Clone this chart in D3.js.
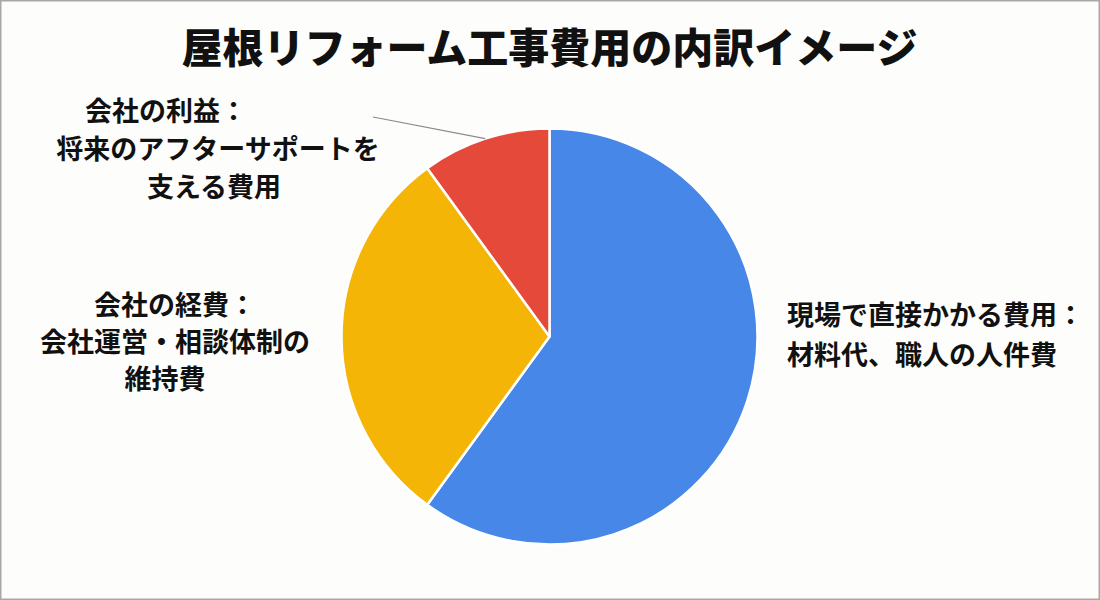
<!DOCTYPE html>
<html>
<head>
  <meta charset="utf-8">
  <script src="https://d3js.org/d3.v7.min.js"></script>
  <style>
    body { margin: 0; background: #fff; }
    svg text { font-family: "Noto Sans CJK JP", "Noto Sans", sans-serif; fill: #111; }
  </style>
</head>
<body>
<svg id="chart" width="1100" height="600"></svg>
<script>
  // data
  let categories = ["現場で直接かかる費用", "会社の経費", "会社の利益"];
  let shares = [60, 30, 10];
  let labelLines = [
    ["現場で直接かかる費用：", "材料代、職人の人件費"],
    ["会社の経費：", "会社運営・相談体制の", "維持費"],
    ["会社の利益：", "将来のアフターサポートを", "支える費用"]
  ];
  let colors = ["#4687e8", "#f4b507", "#e5493a"];
  let title = "屋根リフォーム工事費用の内訳イメージ";

  let width = 1100,
    height = 600,
    cx = 549.5,
    cy = 336.5,
    radius = 208;

  // where each label block sits (first line baseline, line x-centres or start)
  let labelLayout = [
    { anchor: "start", x: [787, 787], y: 325, dy: 40 },
    { anchor: "middle", x: [175, 175, 165], y: 315, dy: 37 },
    { anchor: "middle", x: [166, 218, 214], y: 121, dy: 38 }
  ];

  let svg = d3.select("#chart");

  svg.append("rect")
    .attr("x", 0.75).attr("y", 0.75)
    .attr("width", width - 1.5).attr("height", height - 1.5)
    .attr("fill", "#fdfdfb")
    .attr("stroke", "#a8a8a8")
    .attr("stroke-width", 1.5);

  svg.append("text")
    .attr("x", cx)
    .attr("y", 63)
    .attr("text-anchor", "middle")
    .attr("font-size", 41)
    .attr("font-weight", 900)
    .text(title);

  let pie = d3.pie().sort(null).value(d => d);
  let arcs = pie(shares);
  let arc = d3.arc().innerRadius(0).outerRadius(radius);

  let g = svg.append("g").attr("transform", `translate(${cx},${cy})`);

  g.selectAll("path")
    .data(arcs).enter()
    .append("path")
    .attr("d", arc)
    .attr("fill", (d, i) => colors[i])
    .attr("stroke", "#fff")
    .attr("stroke-width", 2.5)
    .attr("stroke-linejoin", "round");

  // leader line for the small slice
  let small = arcs[2];
  let mid = (small.startAngle + small.endAngle) / 2;
  let p0 = [Math.sin(mid) * radius, -Math.cos(mid) * radius];
  g.append("line")
    .attr("x1", p0[0]).attr("y1", p0[1])
    .attr("x2", 373 - cx).attr("y2", 117 - cy)
    .attr("stroke", "#8a8a8a")
    .attr("stroke-width", 1.2);

  labelLines.forEach((lines, i) => {
    let lay = labelLayout[i];
    let t = svg.append("g");
    lines.forEach((line, j) => {
      t.append("text")
        .attr("x", lay.x[j])
        .attr("y", lay.y + j * lay.dy)
        .attr("text-anchor", lay.anchor)
        .attr("font-size", 27)
        .attr("font-weight", 700)
        .text(line);
    });
  });
</script>
</body>
</html>
